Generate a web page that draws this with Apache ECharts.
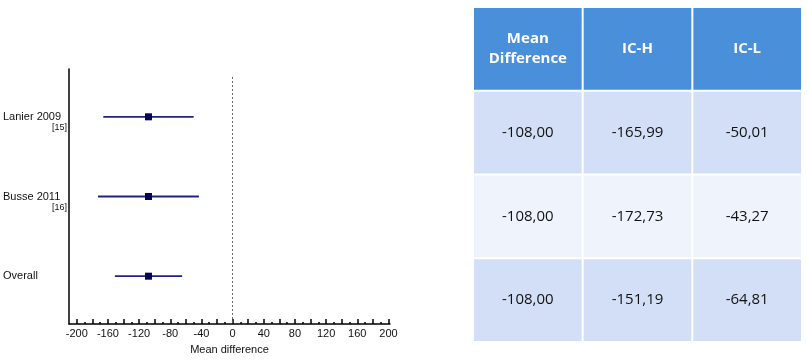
<!DOCTYPE html>
<html>
<head>
<meta charset="utf-8">
<script src="https://cdn.jsdelivr.net/npm/echarts@6/dist/echarts.min.js"></script>
<style>
  html, body { margin: 0; padding: 0; background: #fff; }
  #forest_chart { width: 807px; height: 360px; }
</style>
</head>
<body>
<div id="forest_chart"></div>
<script>
// studies, top to bottom
var studies = ['Lanier 2009', 'Busse 2011', 'Overall'];
var study_refs = ['[15]', '[16]', ''];
var study_rows = [3, 2, 1];
var mean_diff = [-108.00, -108.00, -108.00];
var ic_h = [-165.99, -172.73, -151.19];
var ic_l = [-50.01, -43.27, -64.81];

var table_headers = ['Mean\nDifference', 'IC-H', 'IC-L'];
var x_label_values = [-200, -160, -120, -80, -40, 0, 40, 80, 120, 160, 200];
var x_major_ticks = [-200, -180, -160, -140, -120, -100, -80, -60, -40, -20, 0, 20, 40, 60, 80, 100, 120, 140, 160, 180, 200];
var x_minor_ticks = [-190, -170, -150, -130, -110, -90, -70, -50, -30, -10, 10, 30, 50, 70, 90, 110, 130, 150, 170, 190];

function fmt(v) {
    return v.toFixed(2).replace('.', ',');
}

var forest_data = [];
for (var i = 0; i < studies.length; i++) {
    forest_data.push([mean_diff[i], study_rows[i], ic_h[i], ic_l[i]]);
}

// table cells: [col, row, text]
var table_data = [];
for (var c = 0; c < table_headers.length; c++) {
    table_data.push([c, 0, table_headers[c]]);
}
for (var r = 0; r < studies.length; r++) {
    table_data.push([0, r + 1, fmt(mean_diff[r])]);
    table_data.push([1, r + 1, fmt(ic_h[r])]);
    table_data.push([2, r + 1, fmt(ic_l[r])]);
}

var forest_chart = echarts.init(document.getElementById('forest_chart'));

forest_chart.setOption({
    animation: false,
    textStyle: { fontFamily: 'Liberation Sans, Arial, sans-serif' },
    grid: [
        { left: 69, right: 417, top: 69, bottom: 32 },
        { left: 473, right: 5, top: 7, bottom: 18 }
    ],
    xAxis: [
        {
            type: 'value',
            gridIndex: 0,
            position: 'bottom',
            min: -210,
            max: 202,
            name: 'Mean difference',
            nameLocation: 'middle',
            nameGap: 20,
            nameTextStyle: { fontSize: 11, color: '#111' },
            splitLine: { show: false },
            axisLine: { show: true, onZero: false, lineStyle: { color: '#000', width: 1.5 } },
            axisTick: {
                show: true,
                inside: true,
                length: 5,
                customValues: x_major_ticks,
                lineStyle: { color: '#000', width: 1.5 }
            },
            axisLabel: {
                customValues: x_label_values,
                fontSize: 11,
                color: '#111',
                margin: 4
            }
        },
        {
            type: 'value',
            gridIndex: 0,
            position: 'bottom',
            min: -210,
            max: 202,
            splitLine: { show: false },
            axisLine: { show: false, onZero: false },
            axisTick: {
                show: true,
                inside: true,
                length: 2,
                customValues: x_minor_ticks,
                lineStyle: { color: '#000', width: 1.5 }
            },
            axisLabel: { show: false }
        },
        {
            type: 'category',
            gridIndex: 1,
            data: ['0', '1', '2'],
            show: false
        }
    ],
    yAxis: [
        {
            type: 'value',
            gridIndex: 0,
            min: 0.4,
            max: 3.6,
            splitLine: { show: false },
            axisLine: { show: true, onZero: false, lineStyle: { color: '#000', width: 1.5 } },
            axisTick: { show: false },
            axisLabel: {
                customValues: study_rows,
                align: 'left',
                margin: 66,
                padding: [8, 0, 0, 0],
                formatter: function (v) {
                    var idx = study_rows.indexOf(v);
                    if (idx < 0) return '';
                    return '{a|' + studies[idx] + '}\n{b|' + (study_refs[idx] || ' ') + '}';
                },
                rich: {
                    a: { fontSize: 11, lineHeight: 14, color: '#111' },
                    b: { fontSize: 9, lineHeight: 8, width: 64, align: 'right', color: '#111' }
                }
            }
        },
        {
            type: 'category',
            gridIndex: 1,
            inverse: true,
            data: ['h', 'r1', 'r2', 'r3'],
            show: false
        }
    ],
    series: [
        {
            name: 'forest',
            type: 'custom',
            xAxisIndex: 0,
            yAxisIndex: 0,
            data: forest_data,
            encode: { x: [0, 2, 3], y: 1 },
            renderItem: function (params, api) {
                var y = api.value(1);
                var p_lo = api.coord([api.value(2), y]);
                var p_hi = api.coord([api.value(3), y]);
                var p_m = api.coord([api.value(0), y]);
                return {
                    type: 'group',
                    children: [
                        {
                            type: 'line',
                            shape: { x1: p_lo[0], y1: p_lo[1], x2: p_hi[0], y2: p_hi[1] },
                            style: { stroke: '#22237d', lineWidth: 1.8 }
                        },
                        {
                            type: 'rect',
                            shape: { x: p_m[0] - 3.5, y: p_m[1] - 3.5, width: 7, height: 7 },
                            style: { fill: '#02025e' }
                        }
                    ]
                };
            },
            markLine: {
                silent: true,
                symbol: 'none',
                label: { show: false },
                lineStyle: { type: [2, 2], color: '#666', width: 1 },
                data: [[{ coord: [0, 3.5] }, { coord: [0, 0.4] }]]
            }
        },
        {
            name: 'table',
            type: 'custom',
            xAxisIndex: 2,
            yAxisIndex: 1,
            data: table_data,
            encode: { x: 0, y: 1 },
            renderItem: function (params, api) {
                var col = api.value(0);
                var row = api.value(1);
                var txt = table_data[params.dataIndex][2];
                var ctr = api.coord([col, row]);
                var size = api.size([1, 1]);
                var fill = row === 0 ? '#4a8fd9' : (row === 2 ? '#eff4fc' : '#d3dff6');
                return {
                    type: 'group',
                    children: [
                        {
                            type: 'rect',
                            shape: {
                                x: ctr[0] - size[0] / 2 + 1,
                                y: ctr[1] - size[1] / 2 + 1,
                                width: size[0] - 2,
                                height: size[1] - 2
                            },
                            style: { fill: fill }
                        },
                        {
                            type: 'text',
                            style: {
                                x: ctr[0],
                                y: ctr[1],
                                text: txt,
                                align: 'center',
                                verticalAlign: 'middle',
                                fill: row === 0 ? '#fff' : '#111',
                                fontFamily: 'Open Sans, sans-serif',
                                fontSize: 15,
                                fontWeight: row === 0 ? 'bold' : 'normal',
                                lineHeight: 20
                            }
                        }
                    ]
                };
            }
        }
    ]
});

window.addEventListener('resize', function () {
    forest_chart.resize();
});
</script>
</body>
</html>
